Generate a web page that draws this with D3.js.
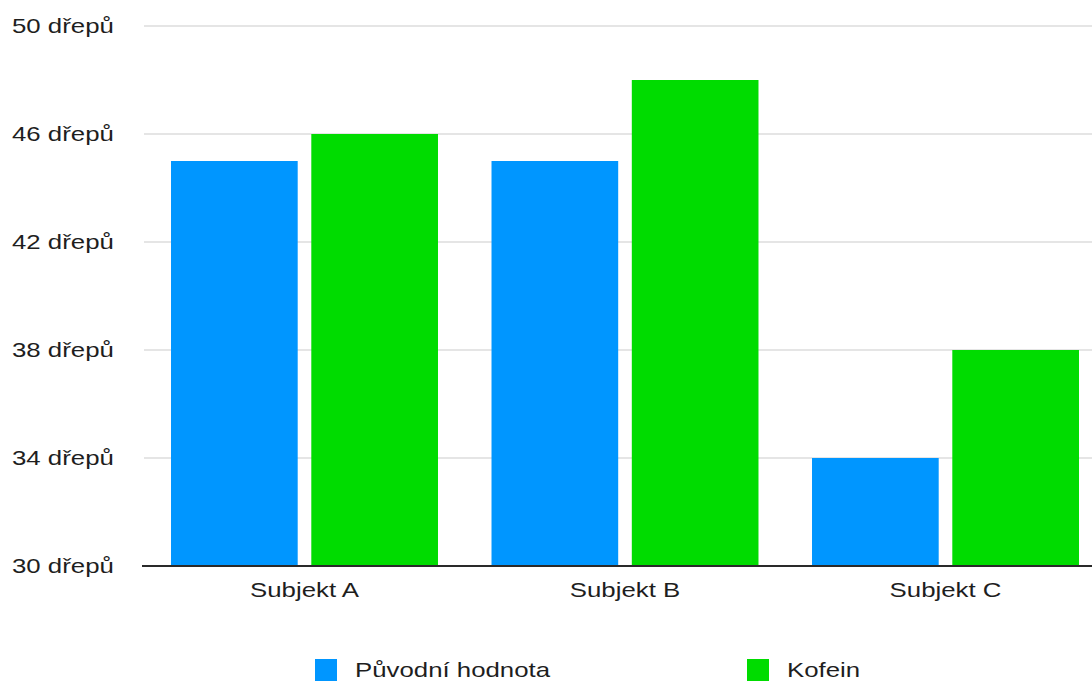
<!DOCTYPE html>
<html>
<head>
<meta charset="utf-8">
<script src="https://cdn.jsdelivr.net/npm/d3@7/dist/d3.min.js"></script>
<style>
  html, body { margin: 0; padding: 0; background: #fff; overflow: hidden; }
  svg { display: block; }
  text { font-family: "Liberation Sans", Arial, Helvetica, sans-serif; fill: #1e1e1e; }
</style>
</head>
<body>
<svg id="chart" width="1092" height="682"></svg>
<script>
const categories = ["Subjekt A", "Subjekt B", "Subjekt C"];
const seriesNames = ["Původní hodnota", "Kofein"];
const puvodni = [45, 45, 34];
const kofein = [46, 48, 38];
const tickValues = [30, 34, 38, 42, 46, 50];
const tickLabels = ["30 dřepů", "34 dřepů", "38 dřepů", "42 dřepů", "46 dřepů", "50 dřepů"];
const colors = ["#0096ff", "#00dc00"];

const seriesValues = [puvodni, kofein];
const data = categories.map((c, i) => ({
  cat: c,
  vals: seriesNames.map((s, j) => ({ key: s, value: seriesValues[j][i], idx: j }))
}));

const svg = d3.select("#chart");
const SX = 1.29;
const FS = 20;

const y = d3.scaleLinear().domain([30, 50]).range([566, 26]);
const x0 = d3.scaleBand().domain(categories).range([144.25, 1105.75])
  .paddingInner(0.167).paddingOuter(0.0835);
const x1 = d3.scaleBand().domain(seriesNames).range([0, x0.bandwidth()]).paddingInner(0.097);

// gridlines
svg.append("g").selectAll("line").data(tickValues.filter(v => v !== 30)).join("line")
  .attr("x1", 144).attr("x2", 1092)
  .attr("y1", d => y(d)).attr("y2", d => y(d))
  .attr("stroke", "#dcdcdc").attr("stroke-width", 1.5);

// y tick labels
svg.append("g").selectAll("text").data(tickValues).join("text")
  .attr("transform", d => `translate(12,${y(d)}) scale(${SX},1)`)
  .attr("dy", "0.36em")
  .attr("font-size", FS)
  .text((d, i) => tickLabels[i]);

// bars
const groups = svg.append("g").selectAll("g").data(data).join("g")
  .attr("transform", d => `translate(${x0(d.cat)},0)`);
groups.selectAll("rect").data(d => d.vals).join("rect")
  .attr("x", d => x1(d.key))
  .attr("width", x1.bandwidth())
  .attr("y", d => y(d.value))
  .attr("height", d => y(30) - y(d.value))
  .attr("fill", d => colors[d.idx]);

// x axis line
svg.append("line").attr("x1", 142).attr("x2", 1092)
  .attr("y1", y(30)).attr("y2", y(30))
  .attr("stroke", "#2a2a2a").attr("stroke-width", 2);

// x labels
svg.append("g").selectAll("text").data(categories).join("text")
  .attr("transform", d => `translate(${x0(d) + x0.bandwidth() / 2},597) scale(${SX},1)`)
  .attr("text-anchor", "middle")
  .attr("font-size", FS)
  .text(d => d);

// legend
const legendX = [315, 747];
const leg = svg.append("g").selectAll("g").data(seriesNames).join("g")
  .attr("transform", (d, i) => `translate(${legendX[i]},659)`);
leg.append("rect").attr("width", 22).attr("height", 22).attr("fill", (d, i) => colors[i]);
leg.append("text")
  .attr("transform", `translate(40,18) scale(${SX},1)`)
  .attr("font-size", FS)
  .text(d => d);
</script>
</body>
</html>
